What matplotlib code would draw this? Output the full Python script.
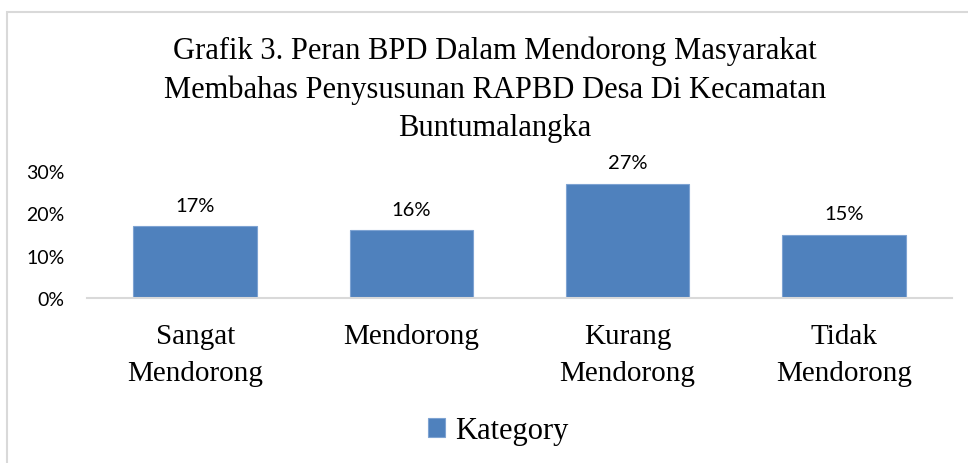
import numpy as np
from matplotlib import pyplot as plt
from matplotlib.patches import Rectangle

# data
categories = ['Sangat\nMendorong', 'Mendorong', 'Kurang\nMendorong', 'Tidak\nMendorong']
values = [0.17, 0.16, 0.27, 0.15]
yticks = [0.0, 0.1, 0.2, 0.3]
series_name = 'Kategory'
title = ('Grafik 3. Peran BPD Dalam Mendorong Masyarakat\n'
         'Membahas Penysusunan RAPBD Desa Di Kecamatan\n'
         'Buntumalangka')

W, H = 968, 464
fig = plt.figure(figsize=(W / 100, H / 100), dpi=100)

# light gray chart border (right/bottom run off the picture)
fig.patches.append(Rectangle((6.5 / W, -0.05), 1.1, 1 - 12.5 / H + 0.05,
                             transform=fig.transFigure, fill=False,
                             edgecolor='#d9d9d9', linewidth=1.5))

ax = fig.add_axes([87 / W, 1 - 299 / H, (952 - 87) / W, (299 - 172) / H])
x = np.arange(len(categories))
bars = ax.bar(x, values, width=0.57, color='#4f81bd', edgecolor='#7ea3d2', linewidth=0.8)

ax.set_xlim(-0.5, len(categories) - 0.5)
ax.set_ylim(0, 0.3)
ax.set_yticks(yticks)
ax.set_yticklabels(['%d%%' % round(v * 100) for v in yticks], fontfamily='Lato', fontsize=14)
ax.set_xticks(x)
ax.set_xticklabels(categories, fontfamily='Liberation Serif', fontsize=21, linespacing=1.55)
ax.tick_params(axis='y', length=0, pad=16)
ax.tick_params(axis='x', length=0, pad=18)

for s in ['top', 'right', 'left']:
    ax.spines[s].set_visible(False)
ax.spines['bottom'].set_color('#d9d9d9')
ax.spines['bottom'].set_linewidth(1.5)

ax.bar_label(bars, labels=['%d%%' % round(v * 100) for v in values], padding=9,
             fontfamily='Lato', fontsize=14.5)

fig.text(0.511, 1 - 37 / H, title, ha='center', va='top', fontfamily='Liberation Serif',
         fontsize=22, linespacing=1.4)

fig.legend([bars[0]], [series_name], loc='center', bbox_to_anchor=(0.515, 1 - 432 / H),
           frameon=False, prop={'family': 'Liberation Serif', 'size': 22},
           handlelength=0.55, handleheight=0.55, handletextpad=0.35)

fig.savefig('out.png', dpi=100)
